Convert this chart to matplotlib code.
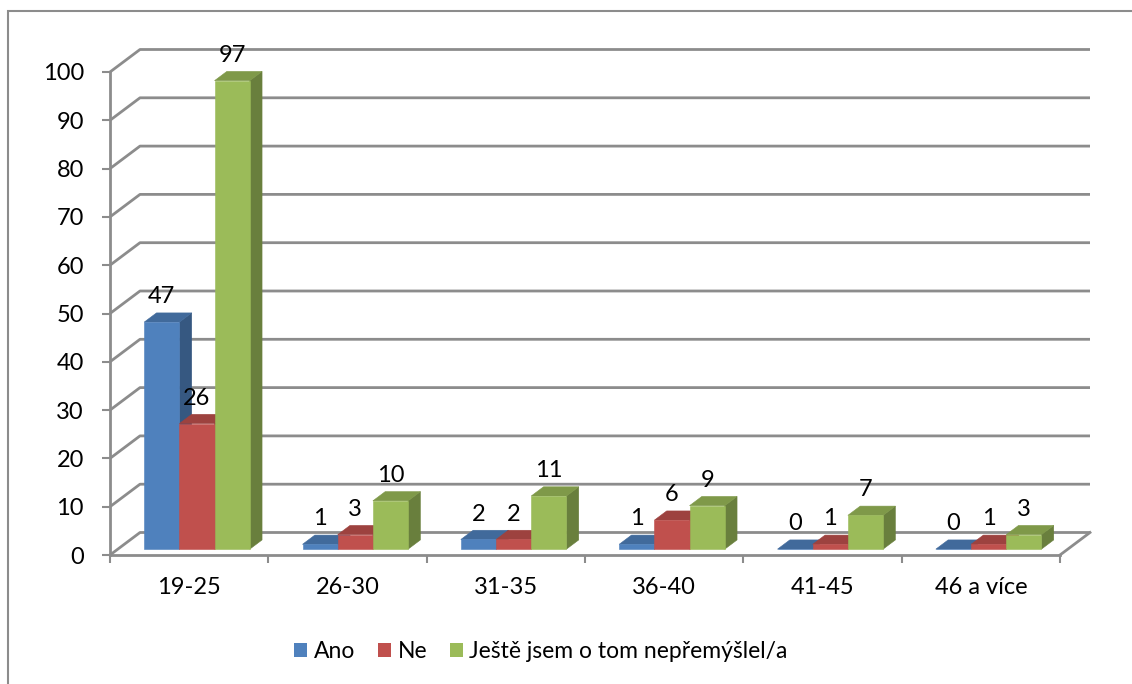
import matplotlib
matplotlib.use('Agg')
import matplotlib.pyplot as plt
from matplotlib.patches import Polygon, Patch, Rectangle
from matplotlib.colors import to_rgb

plt.rcParams['font.family'] = ['Lato', 'DejaVu Sans']

# data
categories = ['19-25', '26-30', '31-35', '36-40', '41-45', '46 a více']
series_names = ['Ano', 'Ne', 'Ještě jsem o tom nepřemýšlel/a']
ano = [47, 1, 2, 1, 0, 0]
ne = [26, 3, 2, 6, 1, 1]
nepremyslel = [97, 10, 11, 9, 7, 3]
y_ticks = list(range(0, 101, 10))

colors = ['#4F81BD', '#C0504D', '#9BBB59']
grid_col = '#8c8c8c'


def shade(c, f):
    r, g, b = to_rgb(c)
    return (r * f, g * f, b * f)


W, H = 1132, 684
fig = plt.figure(figsize=(W / 100, H / 100), dpi=100)
# front plane of the 3d box
ax = fig.add_axes([110 / W, 1 - 555 / H, 950 / W, 483 / H])
ncat = len(categories)
ax.set_xlim(0, ncat)
ax.set_ylim(0, 100)

# depth offset (full depth) in data units
DX = 30 / (950 / ncat)
DY = 22.5 / 4.83


def proj(x, y, z):
    return (x + z * DX, y + z * DY)


# walls: gridlines on left and back walls
for v in y_ticks:
    pts = [proj(0, v, 0), proj(0, v, 1), proj(ncat, v, 1)]
    ax.plot([p[0] for p in pts], [p[1] for p in pts], color=grid_col,
            lw=2.0, clip_on=False, zorder=1, solid_capstyle='butt')
# floor right edge
p0, p1 = proj(ncat, 0, 0), proj(ncat, 0, 1)
ax.plot([p0[0], p1[0]], [p0[1], p1[1]], color=grid_col, lw=2.0,
        clip_on=False, zorder=1)

# bars
bw = 1 / 4.5
z0, z1 = 0.26, 0.67
all_vals = [ano, ne, nepremyslel]
for i in range(ncat):
    for s, vals in enumerate(all_vals):
        x0 = i + 0.75 * bw + s * bw
        x1 = x0 + bw
        v = vals[i]
        c = colors[s]
        front = [proj(x0, 0, z0), proj(x1, 0, z0), proj(x1, v, z0), proj(x0, v, z0)]
        side = [proj(x1, 0, z0), proj(x1, 0, z1), proj(x1, v, z1), proj(x1, v, z0)]
        top = [proj(x0, v, z0), proj(x1, v, z0), proj(x1, v, z1), proj(x0, v, z1)]
        for poly, col in [(side, shade(c, 0.68)), (top, shade(c, 0.82)), (front, c)]:
            ax.add_patch(Polygon(poly, closed=True, facecolor=col, edgecolor=col,
                                 lw=0.4, clip_on=False, zorder=3))
        ax.text(x0 + bw / 2 + z0 * DX, v + z1 * DY + 2.0, str(v), ha='center',
                va='baseline', fontsize=17, color='black', zorder=5, clip_on=False)

# axes styling
for side_name in ['top', 'right']:
    ax.spines[side_name].set_visible(False)
for side_name in ['left', 'bottom']:
    ax.spines[side_name].set_color(grid_col)
    ax.spines[side_name].set_linewidth(2.0)
ax.set_facecolor('none')
ax.set_yticks(y_ticks)
ax.tick_params(axis='y', length=5.8, width=1.5, color=grid_col, pad=13.0,
               labelsize=17)
ax.set_xticks(range(ncat + 1))
ax.set_xticklabels([])
ax.set_xticks([i + 0.5 for i in range(ncat)], minor=True)
ax.set_xticklabels(categories, minor=True)
ax.tick_params(axis='x', which='major', length=5.8, width=1.5, color=grid_col)
ax.tick_params(axis='x', which='minor', length=0, pad=16, labelsize=17)

# legend
handles = [Patch(facecolor=c, edgecolor='none') for c in colors]
fig.legend(handles, series_names, loc='center', bbox_to_anchor=(541 / W, 1 - 652 / H),
           ncol=3, frameon=False, fontsize=16.5, handlelength=0.55, handleheight=0.55,
           handletextpad=0.3, columnspacing=1.0, borderaxespad=0)

# chart border
fig.add_artist(Rectangle((8 / W, -0.1), 2, 1 - 11 / H + 0.1, transform=fig.transFigure,
                         fill=False, edgecolor=grid_col, lw=1.5))

fig.savefig('out.png', dpi=100)
